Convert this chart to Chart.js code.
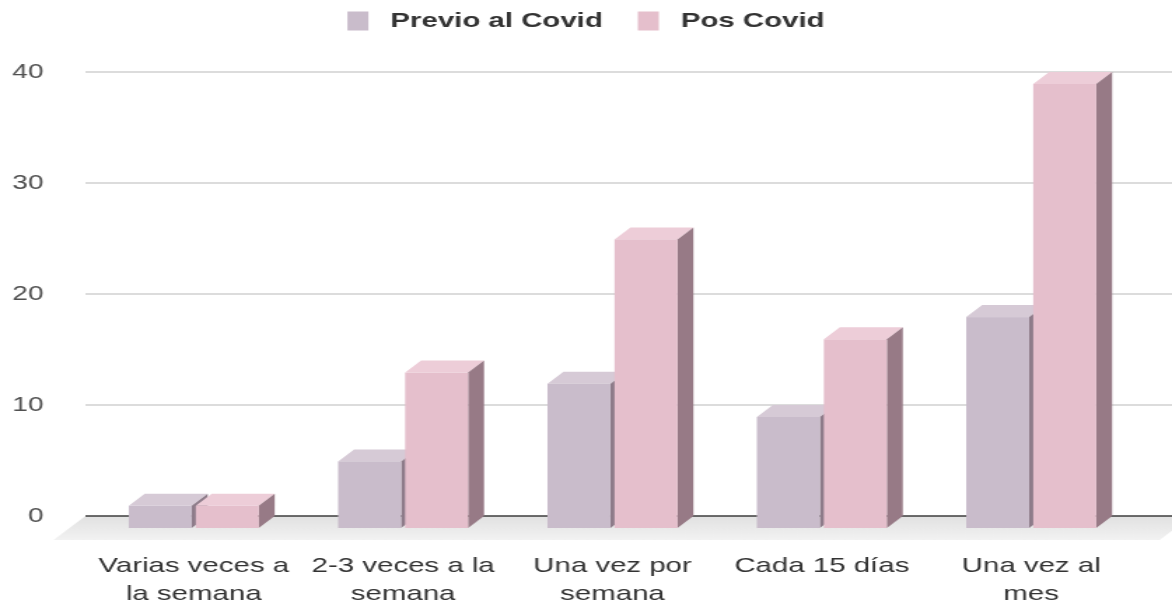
<!DOCTYPE html>
<html lang="es">
<head>
<meta charset="utf-8">
<title>Frecuencia previo y pos Covid</title>
<script src="https://cdn.jsdelivr.net/npm/chart.js@4.4.1/dist/chart.umd.min.js"></script>
<style>
  html, body { margin: 0; padding: 0; background: #fff; }
  /* el lienzo se dibuja a 837px y se estira a lo ancho */
  #frecuencia { display: block; width: 1172px; height: 608px; }
</style>
</head>
<body>
<canvas id="frecuencia" width="837" height="608" style="width:1172px;height:608px"></canvas>
<script>
// Datos
const categorias = [
    ['Varias veces a', 'la semana'],
    ['2-3 veces a la', 'semana'],
    ['Una vez por', 'semana'],
    ['Cada 15 días'],
    ['Una vez al', 'mes']
];
const previoCovid = [2, 6, 13, 10, 19];
const posCovid = [2, 14, 26, 17, 40];
const ticksEjeY = [0, 10, 20, 30, 40];

// Estilo
const FUENTE = "'Liberation Sans', Arial, sans-serif";
const PROF_X = 11.4;   // profundidad de las barras en x
const PROF_Y = 12;     // profundidad de las barras en y
const coloresPrevio = { frente: '#c9bccb', tapa: '#d6cad6', lado: '#8d7b89' };
const coloresPos = { frente: '#e5bfcc', tapa: '#edcdd8', lado: '#977a86' };

function poligono(ctx, puntos, color) {
    ctx.beginPath();
    ctx.moveTo(puntos[0][0], puntos[0][1]);
    for (let i = 1; i < puntos.length; i++) {
        ctx.lineTo(puntos[i][0], puntos[i][1]);
    }
    ctx.closePath();
    ctx.fillStyle = color;
    ctx.fill();
}

function dibujarCaja(ctx, barra, colores) {
    const {x, y, base, width} = barra.getProps(['x', 'y', 'base', 'width'], true);
    const izq = x - width / 2;
    const der = x + width / 2;
    const fIzq = izq - PROF_X;
    const fDer = der - PROF_X;
    const fTop = y + PROF_Y;
    const fBase = base + PROF_Y;

    poligono(ctx, [[fIzq, fTop], [fDer, fTop], [der, y], [izq, y]], colores.tapa);
    poligono(ctx, [[fDer, fTop], [der, y], [der, base], [fDer, fBase]], colores.lado);
    ctx.fillStyle = colores.frente;
    ctx.fillRect(fIzq, fTop, width, fBase - fTop);
}

// Suelo, rejilla y barras en 3D
const escena3d = {
    id: 'escena3d',
    beforeDatasetsDraw(chart) {
        const ctx = chart.ctx;
        const yScale = chart.scales.y;
        const inicio = chart.chartArea.left - 14;
        const fin = chart.width + 14;
        const y0 = yScale.getPixelForValue(0);

        ctx.save();

        // suelo
        const grad = ctx.createLinearGradient(0, y0, 0, y0 + 2 * PROF_Y);
        grad.addColorStop(0, '#e1e1e1');
        grad.addColorStop(1, '#f2f2f2');
        poligono(ctx, [
            [inicio, y0],
            [fin, y0],
            [fin - 2 * PROF_X, y0 + 2 * PROF_Y],
            [inicio - 2 * PROF_X, y0 + 2 * PROF_Y]
        ], grad);

        // líneas de la rejilla
        yScale.ticks.forEach(t => {
            const yp = Math.round(yScale.getPixelForValue(t.value));
            ctx.beginPath();
            if (t.value === 0) {
                ctx.strokeStyle = '#3c3c3c';
                ctx.lineWidth = 1.5;
            } else {
                ctx.strokeStyle = '#dcdcdc';
                ctx.lineWidth = 2;
            }
            ctx.moveTo(inicio, yp);
            ctx.lineTo(chart.width, yp);
            ctx.stroke();
        });

        // barras, de izquierda a derecha
        const metaPrevio = chart.getDatasetMeta(0);
        const metaPos = chart.getDatasetMeta(1);
        for (let i = 0; i < categorias.length; i++) {
            dibujarCaja(ctx, metaPrevio.data[i], coloresPrevio);
            dibujarCaja(ctx, metaPos.data[i], coloresPos);
        }

        ctx.restore();
        return false;
    }
};

// Leyenda
const leyenda = {
    id: 'leyenda',
    afterDraw(chart) {
        const ctx = chart.ctx;
        const cajaAncho = 15, cajaAlto = 19, separacion = 15.7, hueco = 25;
        ctx.save();
        ctx.font = 'bold 21px ' + FUENTE;
        ctx.textBaseline = 'middle';
        const items = chart.data.datasets.map(ds => ({
            texto: ds.label,
            color: ds.backgroundColor,
            ancho: ctx.measureText(ds.label).width
        }));
        let total = 0;
        items.forEach((it, i) => {
            total += cajaAncho + separacion + it.ancho + (i > 0 ? hueco : 0);
        });
        let x = (chart.width - total) / 2;
        const yc = 21;
        items.forEach(it => {
            ctx.fillStyle = it.color;
            ctx.fillRect(x, yc - cajaAlto / 2, cajaAncho, cajaAlto);
            ctx.fillStyle = '#333333';
            ctx.fillText(it.texto, x + cajaAncho + separacion, yc);
            x += cajaAncho + separacion + it.ancho + hueco;
        });
        ctx.restore();
    }
};

const ctx = document.getElementById('frecuencia');
new Chart(ctx, {
    type: 'bar',
    data: {
        labels: categorias,
        datasets: [
            { label: 'Previo al Covid', data: previoCovid, backgroundColor: coloresPrevio.frente },
            { label: 'Pos Covid', data: posCovid, backgroundColor: coloresPos.frente }
        ]
    },
    options: {
        responsive: false,
        devicePixelRatio: 1,
        animation: false,
        categoryPercentage: 0.64,
        barPercentage: 0.94,
        layout: {
            padding: { top: 72, right: 14.4, bottom: 0, left: 0 }
        },
        plugins: {
            legend: { display: false },
            tooltip: { enabled: false }
        },
        scales: {
            x: {
                grid: { display: false, drawTicks: false },
                border: { display: false },
                afterFit(scale) {
                    scale.height = 92;
                },
                ticks: {
                    padding: 36,
                    labelOffset: -PROF_X,
                    maxRotation: 0,
                    autoSkip: false,
                    color: '#333333',
                    font: { family: FUENTE, size: 21, lineHeight: 1.333 }
                }
            },
            y: {
                min: ticksEjeY[0],
                max: ticksEjeY[ticksEjeY.length - 1],
                grid: { display: false, drawTicks: false },
                border: { display: false },
                afterFit(scale) {
                    scale.width = 75;
                },
                ticks: {
                    stepSize: ticksEjeY[1] - ticksEjeY[0],
                    padding: 44,
                    color: '#505050',
                    font: { family: FUENTE, size: 20 }
                }
            }
        }
    },
    plugins: [escena3d, leyenda]
});
</script>
</body>
</html>
